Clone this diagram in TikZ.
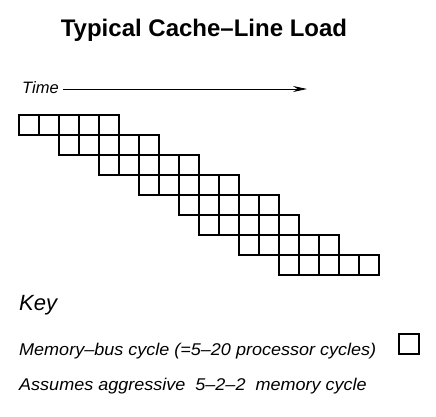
\documentclass[tikz,border=0pt]{standalone}
\usepackage{fontspec}
\setmainfont{Liberation Sans}
\newfontfamily\widesans[FakeStretch=1.06]{Liberation Sans}
\usetikzlibrary{arrows.meta}
\tikzset{
  cell/.style={draw,line width=1.6pt,minimum size=20pt,inner sep=0pt,outer sep=0pt},
  lbl/.style={inner sep=0pt,anchor=base west,font=\widesans\itshape\fontsize{17}{19}\selectfont}
}
\begin{document}
\begin{tikzpicture}[x=1pt,y=-1pt]
	\useasboundingbox (0,0) rectangle (436,417);
	\node[inner sep=0pt,anchor=base,font=\bfseries\fontsize{24}{27}\selectfont] (title) at (204,36.5) {Typical Cache–Line Load};
	\node[lbl,font=\itshape\fontsize{16.5}{18}\selectfont] (time) at (22,94) {Time};
	\coordinate (tend) at (307,89);
	\draw[line width=0.8pt,-{Stealth[length=14pt,width=6pt]}] (time.east |- tend) ++(4,0) -- (tend);
	% staircase of bus cycles
	\foreach \r/\o in {0/0,1/2,2/4,3/6,4/8,5/9,6/11,7/13}
		\foreach \c in {0,...,4}
			\node[cell] (c\r\c) at ({29+20*(\o+\c)},{125+20*\r}) {};
	\node[lbl,font=\itshape\fontsize{22}{24}\selectfont] (key) at (19,310) {Key};
	\node[lbl] (bus) at (19,355) {Memory–bus cycle (=5–20 processor cycles)};
	\node[cell] (keycell) at (409,344) {};
	\node[lbl] (note) at (19,390) {Assumes aggressive\ \ 5–2–2\ \ memory cycle};
\end{tikzpicture}
\end{document}
